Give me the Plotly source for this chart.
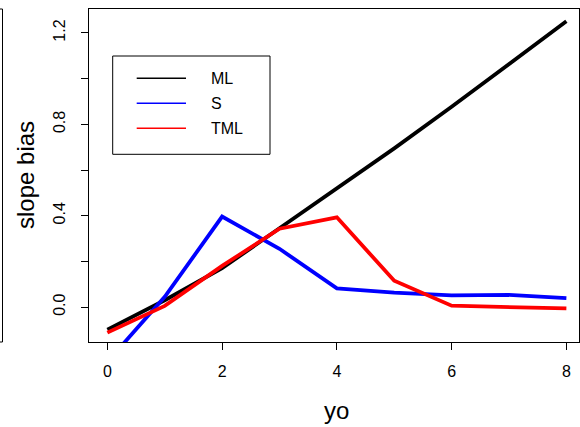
import plotly.graph_objects as go

# ---- data ----
yo = [0, 1, 2, 3, 4, 5, 6, 7, 8]
ml = [-0.099, 0.03, 0.17, 0.345, 0.515, 0.695, 0.877, 1.062, 1.251]
s_vals = [-0.24, 0.045, 0.396, 0.255, 0.082, 0.063, 0.051, 0.053, 0.039]
tml = [-0.112, 0.005, 0.18, 0.343, 0.393, 0.115, 0.006, -0.002, -0.006]
series_names = ["ML", "S", "TML"]
series_colors = ["#000000", "#0000FF", "#FF0000"]
x_ticks = [0, 2, 4, 6, 8]
y_ticks = [0.0, 0.2, 0.4, 0.6, 0.8, 1.0, 1.2]
y_ticklabels = ["0.0", "", "0.4", "", "0.8", "", "1.2"]

FONT = "Liberation Sans, Arial, sans-serif"

W, H = 580, 427
L, R, T, B = 89, 1, 9, 85
pw, ph = W - L - R, H - T - B


def px(x):
    return (x - L) / pw


def py(y):
    return (H - B - y) / ph


fig = go.Figure()
for name, vals, col in zip(series_names, [ml, s_vals, tml], series_colors):
    fig.add_trace(go.Scatter(x=yo, y=vals, mode="lines", name=name,
                             line=dict(color=col, width=3.8),
                             showlegend=False, hoverinfo="skip"))

shapes = []
annotations = []

# manual legend (R-style)
shapes.append(dict(type="rect", xref="paper", yref="paper",
                   x0=px(112.7), x1=px(270), y0=py(154.3), y1=py(56),
                   line=dict(color="black", width=1), fillcolor="white", layer="above"))
for i, (name, col) in enumerate(zip(series_names, series_colors)):
    yy = py(78.3 + 25 * i)
    shapes.append(dict(type="line", xref="paper", yref="paper",
                       x0=px(136.7), x1=px(186), y0=yy, y1=yy,
                       line=dict(color=col, width=1.5), layer="above"))
    annotations.append(dict(text=name, xref="paper", yref="paper",
                            x=px(209), y=yy, xanchor="left", yanchor="middle",
                            showarrow=False, font=dict(size=16, color="black", family=FONT)))

# remnant of neighbouring panel box at the left edge
shapes.append(dict(type="rect", xref="paper", yref="paper",
                   x0=px(-20), x1=px(2.5), y0=0, y1=1,
                   line=dict(color="black", width=1)))

# axis titles
annotations.append(dict(text="yo", xref="paper", yref="paper", x=px(336.5), y=py(410),
                        xanchor="center", yanchor="middle", showarrow=False,
                        font=dict(size=24, color="black", family=FONT)))
annotations.append(dict(text="slope bias", xref="paper", yref="paper", x=px(25), y=py(175),
                        xanchor="center", yanchor="middle", textangle=-90, showarrow=False,
                        font=dict(size=24, color="black", family=FONT)))

fig.update_layout(
    width=W, height=H,
    margin=dict(l=L, r=R, t=T, b=B, pad=0),
    paper_bgcolor="white", plot_bgcolor="white",
    font=dict(family=FONT, size=16, color="black"),
    shapes=shapes, annotations=annotations,
    xaxis=dict(range=[-0.32, 8.22], tickvals=x_ticks, ticktext=[str(v) for v in x_ticks],
               ticks="outside", ticklen=7, tickwidth=1, tickcolor="black",
               showline=True, linecolor="black", linewidth=1, mirror=True,
               showgrid=False, zeroline=False, ticklabelstandoff=8,
               tickfont=dict(size=16, family=FONT, color="black")),
    yaxis=dict(range=[-0.153, 1.305], tickvals=y_ticks, ticktext=y_ticklabels,
               ticks="outside", ticklen=7, tickwidth=1, tickcolor="black",
               showline=True, linecolor="black", linewidth=1, mirror=True,
               showgrid=False, zeroline=False, tickangle=-90, ticklabelstandoff=10,
               tickfont=dict(size=16, family=FONT, color="black")),
)

fig.write_html(
    "out.html",
    config={"displayModeBar": False},
    post_script="document.body.style.margin='0';document.body.style.overflow='hidden';",
)
